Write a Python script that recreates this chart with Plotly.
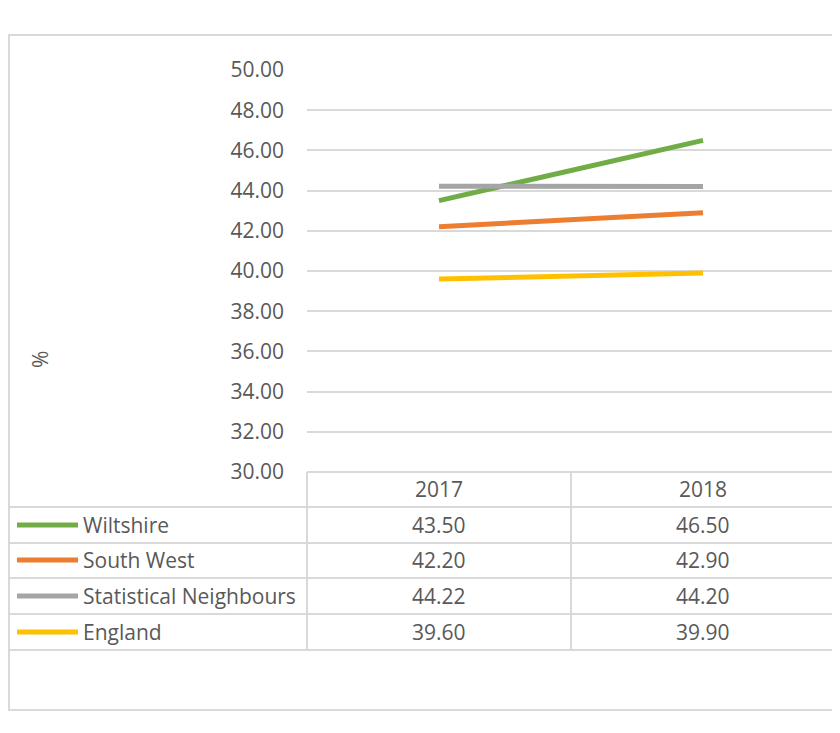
import plotly.graph_objects as go

# data
years = ["2017", "2018"]
series_names = ["Wiltshire", "South West", "Statistical Neighbours", "England"]
wiltshire = [43.50, 46.50]
south_west = [42.20, 42.90]
stat_neighbours = [44.22, 44.20]
england = [39.60, 39.90]
colors = ["#70AD47", "#ED7D31", "#A5A5A5", "#FFC000"]
y_ticks = [30, 32, 34, 36, 38, 40, 42, 44, 46, 48, 50]

all_series = [wiltshire, south_west, stat_neighbours, england]

# page has an 8px body margin, so the figure is 8px smaller each way
OFF = 8
W, H = 840 - OFF, 733 - OFF
TXT = "#595959"
GRID = "#D9D9D9"
FONT = "Open Sans"
FS = 21


def px_x(x):
    return (x - OFF) / W


def px_y(y):
    return 1 - (y - OFF) / H


fig = go.Figure()
for name, vals, col in zip(series_names, all_series, colors):
    fig.add_trace(go.Scatter(x=years, y=vals, name=name, mode="lines",
                             line=dict(color=col, width=5), showlegend=False))

# plot area 307..835 x 70..472 in screen pixels
fig.update_layout(
    width=W, height=H,
    margin=dict(l=0, r=0, t=0, b=0, autoexpand=False),
    showlegend=False,
    paper_bgcolor="white", plot_bgcolor="white",
    font=dict(family=FONT, size=FS, color=TXT),
    xaxis=dict(domain=[px_x(307), px_x(835)], type="category", range=[-0.5, 1.5],
               showticklabels=False, showgrid=False, zeroline=False, showline=False,
               automargin=False),
    yaxis=dict(domain=[px_y(472), px_y(70)], range=[30, 50], tickvals=y_ticks,
               tickformat=".2f", showgrid=True, gridcolor=GRID, gridwidth=1.5,
               zeroline=False, showline=False, ticks="", ticklabelstandoff=22,
               automargin=False,
               tickfont=dict(family=FONT, size=FS, color=TXT)),
)

shapes = []
# outer chart border
shapes.append(dict(type="rect", xref="paper", yref="paper",
                   x0=px_x(9), x1=px_x(850), y0=px_y(710), y1=px_y(35),
                   line=dict(color=GRID, width=2)))

# data table grid
row_lines = [507, 543, 578, 614, 650]
shapes.append(dict(type="line", xref="paper", yref="paper",
                   x0=px_x(307), x1=px_x(835), y0=px_y(472), y1=px_y(472),
                   line=dict(color=GRID, width=2)))
for ry in row_lines:
    shapes.append(dict(type="line", xref="paper", yref="paper",
                       x0=px_x(9), x1=px_x(835), y0=px_y(ry), y1=px_y(ry),
                       line=dict(color=GRID, width=2)))
for cx in [307, 571, 835]:
    shapes.append(dict(type="line", xref="paper", yref="paper",
                       x0=px_x(cx), x1=px_x(cx), y0=px_y(472), y1=px_y(650),
                       line=dict(color=GRID, width=2)))

annotations = []
col_centers = [439, 703]
header_y = 489
row_centers = [525, 560, 596, 632]

for yr, cx in zip(years, col_centers):
    annotations.append(dict(x=px_x(cx), y=px_y(header_y), xref="paper", yref="paper",
                            text=yr, showarrow=False, xanchor="center", yanchor="middle"))

for name, vals, col, ry in zip(series_names, all_series, colors, row_centers):
    shapes.append(dict(type="line", xref="paper", yref="paper",
                       x0=px_x(17), x1=px_x(78), y0=px_y(ry), y1=px_y(ry),
                       line=dict(color=col, width=5)))
    annotations.append(dict(x=px_x(81), y=px_y(ry), xref="paper", yref="paper",
                            text=name, showarrow=False, xanchor="left", yanchor="middle"))
    for v, cx in zip(vals, col_centers):
        annotations.append(dict(x=px_x(cx), y=px_y(ry), xref="paper", yref="paper",
                                text=f"{v:.2f}", showarrow=False,
                                xanchor="center", yanchor="middle"))

# y axis title
annotations.append(dict(x=px_x(40), y=px_y(360), xref="paper", yref="paper",
                        text="%", textangle=-90, showarrow=False,
                        xanchor="center", yanchor="middle"))

fig.update_layout(shapes=shapes, annotations=annotations)
fig.write_html("out.html")
